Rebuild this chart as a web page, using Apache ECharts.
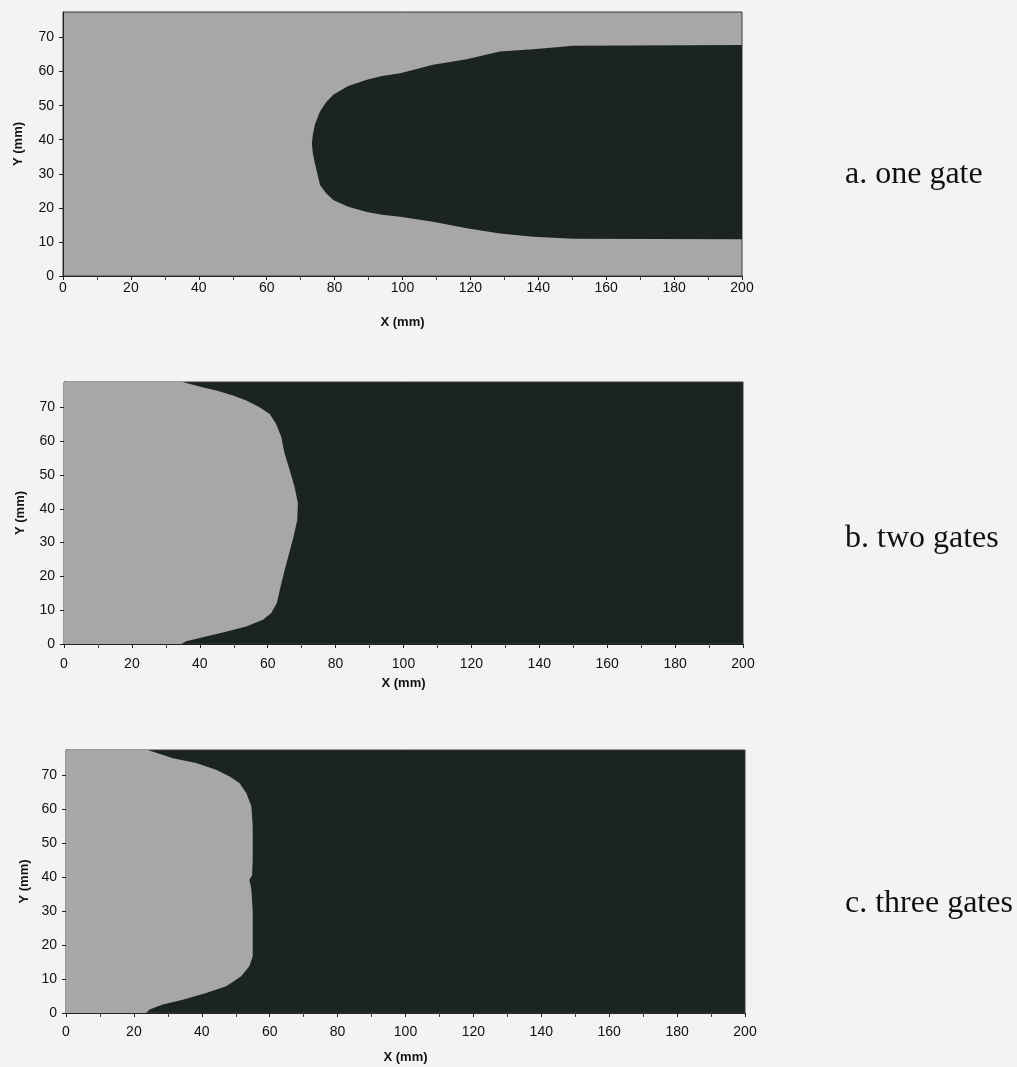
<!DOCTYPE html>
<html>
<head>
<meta charset="utf-8">
<style>
  html, body { margin: 0; padding: 0; background: #f3f3f2; }
  #chart { width: 1017px; height: 1067px; }
</style>
<script src="https://cdn.jsdelivr.net/npm/echarts@6/dist/echarts.min.js"></script>
</head>
<body>
<div id="chart"></div>
<script>
// tick labels
const xTicks = [0, 20, 40, 60, 80, 100, 120, 140, 160, 180, 200];
const yTicks = [0, 10, 20, 30, 40, 50, 60, 70];
const yTop = 77.5;

// a. one gate : dark (filled) region, edges read per x
const aX    = [73.3, 73.6, 74.2, 75.7, 77.5, 79.6, 84, 89.5, 94, 99.3, 109, 118.9, 128.7, 138.5, 150.3, 200];
const aTopY = [39,   41.5, 44.5, 48.3, 51,   53.2, 55.8, 57.6, 58.7, 59.5, 62, 63.6, 65.9, 66.6, 67.6, 67.8];
const aBotY = [39,   36,   33,   26.7, 24.3, 22.3, 20.3, 18.8, 18,   17.4, 15.9, 14, 12.5, 11.5, 10.9, 10.8];

// b. two gates : light (empty) region, front x read per y
const bY = [77.5, 75.9, 75, 73.5, 72, 70, 68, 65, 61.2, 56.3, 51.4, 46.5, 41.6, 36.6, 31.7, 26.8, 21.9, 17, 12.1, 9.1, 7.2, 5.2, 3.2, 1.8, 0.8, 0];
const bX = [34.9, 41,   44.9, 49.8, 53.7, 57.6, 60.6, 62.5, 64, 65, 66.5, 67.9, 68.9, 68.7, 67.6, 66.3, 65, 63.8, 62.7, 61, 58.6, 53.7, 45.9, 40, 36, 34.6];

// c. three gates
const cY = [77.5, 75.1, 73.7, 71.7, 69.7, 67.8, 64.8, 60.9, 55, 45, 40.5, 39.3, 38, 36.3, 30, 24.6, 16.7, 13.8, 10.8, 7.9, 5.9, 3.9, 2.5, 1, 0];
const cX = [24.1, 31.5, 38.3, 44.2, 48.2, 51.1, 53.1, 54.6, 55, 55, 54.8, 54, 54.3, 54.6, 55, 55, 55, 54, 51.6, 47.2, 41.3, 34.4, 28.5, 24.6, 23.6];

const panelLabels = ['a. one gate', 'b. two gates', 'c. three gates'];

const LIGHT = '#a6a7a6';
const DARK = '#1c2323';

function polyA() {
  const pts = [];
  for (let i = aX.length - 1; i >= 0; i--) pts.push([aX[i], aBotY[i]]);
  for (let i = 0; i < aX.length; i++) pts.push([aX[i], aTopY[i]]);
  return pts;
}
function polyLeft(xs, ys) {
  const pts = [[0, 0], [0, yTop]];
  for (let i = 0; i < ys.length; i++) pts.push([xs[i], ys[i]]);
  return pts;
}

const panels = [
  { top: 12, bottom: 791, left: 63, right: 275, bg: LIGHT, fill: DARK, poly: polyA(), lblMargin: 5, xNameGap: 40, yNameGap: 38, label: 177 },
  { top: 382, bottom: 423, left: 64, right: 274, bg: DARK, fill: LIGHT, poly: polyLeft(bX, bY), lblMargin: 13, xNameGap: 33, yNameGap: 37, label: 541 },
  { top: 750, bottom: 54, left: 66, right: 272, bg: DARK, fill: LIGHT, poly: polyLeft(cX, cY), lblMargin: 12, xNameGap: 38, yNameGap: 34, label: 906 }
];

const chart = echarts.init(document.getElementById('chart'));

const option = {
  backgroundColor: '#f3f3f2',
  animation: false,
  grid: panels.map(p => ({
    top: p.top, bottom: p.bottom, left: p.left, right: p.right,
    outerBoundsMode: 'none',
    show: true, backgroundColor: p.bg, borderColor: '#3a3a3a', borderWidth: 1
  })),
  xAxis: panels.map((p, i) => ({
    gridIndex: i, type: 'value', min: 0, max: 200, interval: 20,
    name: 'X (mm)', nameLocation: 'middle', nameGap: p.xNameGap,
    nameTextStyle: { fontFamily: 'Liberation Sans', fontWeight: 'bold', fontSize: 13, color: '#111' },
    axisLine: { show: true, lineStyle: { color: '#222', width: 1 } },
    axisTick: { show: true, length: 4, lineStyle: { color: '#222' } },
    minorTick: { show: true, splitNumber: 2, length: 4, lineStyle: { color: '#444' } },
    splitLine: { show: false },
    axisLabel: {
      margin: p.lblMargin, fontFamily: 'Liberation Sans', fontSize: 14, color: '#111',
      formatter: v => (xTicks.indexOf(v) >= 0 ? String(v) : '')
    }
  })),
  yAxis: panels.map((p, i) => ({
    gridIndex: i, type: 'value', min: 0, max: yTop, interval: 10,
    name: 'Y (mm)', nameLocation: 'middle', nameGap: p.yNameGap, nameRotate: 90,
    nameTextStyle: { fontFamily: 'Liberation Sans', fontWeight: 'bold', fontSize: 13, color: '#111' },
    axisLine: { show: true, lineStyle: { color: '#222', width: 1 } },
    axisTick: { show: true, length: 4, lineStyle: { color: '#222' } },
    splitLine: { show: false },
    axisLabel: {
      margin: 9, fontFamily: 'Liberation Sans', fontSize: 14, color: '#111', showMaxLabel: false,
      formatter: v => (yTicks.indexOf(v) >= 0 ? String(v) : '')
    }
  })),
  series: panels.map((p, i) => ({
    type: 'custom',
    xAxisIndex: i, yAxisIndex: i,
    clip: true,
    silent: true,
    data: [[0, 0]],
    renderItem: function (params, api) {
      return {
        type: 'polygon',
        shape: { points: p.poly.map(pt => api.coord(pt)) },
        style: { fill: p.fill }
      };
    }
  })),
  graphic: panels.map((p, i) => ({
    type: 'text',
    left: 845,
    top: p.label - 18,
    style: {
      text: panelLabels[i],
      font: '32px "Liberation Serif"',
      fill: '#111'
    }
  }))
};

chart.setOption(option);
</script>
</body>
</html>
